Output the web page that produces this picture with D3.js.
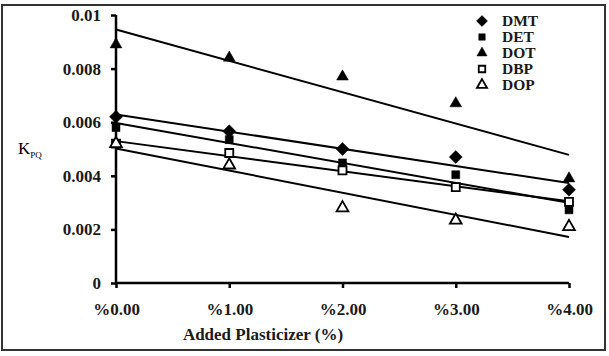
<!DOCTYPE html>
<meta charset="utf-8">
<script src="https://d3js.org/d3.v7.min.js"></script>
<style>
  body { margin: 0; background: #fff; }
  text { font-family: "Liberation Serif", "Times New Roman", serif; }
</style>
<div id="my_dataviz"></div>
<script>

// data
var xValues = [0, 1, 2, 3, 4];
var xTickLabels = ["%0.00", "%1.00", "%2.00", "%3.00", "%4.00"];
var yTicks = [0, 0.002, 0.004, 0.006, 0.008, 0.01];
var yTickLabels = ["0", "0.002", "0.004", "0.006", "0.008", "0.01"];
var seriesNames = ["DMT", "DET", "DOT", "DBP", "DOP"];
var dmt = [0.0062, 0.00566, 0.0050, 0.0047, 0.00348];
var det = [0.0058, 0.00535, 0.00448, 0.00404, 0.00273];
var dot = [0.0089, 0.0084, 0.0077, 0.0067, 0.0039];
var dbp = [0.0052, 0.00485, 0.0042, 0.00358, 0.00303];
var dop = [0.0052, 0.0044, 0.0028, 0.00234, 0.0021];

// diamond drawn as a square turned 45 degrees
var diamond = {
  draw: function(context, size) {
    var r = Math.sqrt(size / 2);
    context.moveTo(0, -r);
    context.lineTo(r, 0);
    context.lineTo(0, r);
    context.lineTo(-r, 0);
    context.closePath();
  }
};

var allSeries = [
  {name: seriesNames[0], values: dmt, shape: diamond, fill: "#000"},
  {name: seriesNames[1], values: det, shape: d3.symbolSquare, fill: "#000"},
  {name: seriesNames[2], values: dot, shape: d3.symbolTriangle, fill: "#000"},
  {name: seriesNames[3], values: dbp, shape: d3.symbolSquare, fill: "#fff"},
  {name: seriesNames[4], values: dop, shape: d3.symbolTriangle, fill: "#fff"}
];

var W = 609, H = 356;
var margin = {top: 15, left: 116},
    width = 569 - margin.left,
    height = 283 - margin.top;

var svg = d3.select("#my_dataviz")
  .append("svg")
    .attr("width", W)
    .attr("height", H);

// outer frame
svg.append("rect")
  .attr("x", 2).attr("y", 5)
  .attr("width", 603).attr("height", 345)
  .attr("fill", "none")
  .attr("stroke", "#333")
  .attr("stroke-width", 2);

var g = svg.append("g")
  .attr("transform", "translate(" + margin.left + "," + margin.top + ")");

var x = d3.scaleLinear().domain([0, 4]).range([0, width]);
var y = d3.scaleLinear().domain([0, 0.01]).range([height, 0]);

// X axis
var xAxis = g.append("g")
  .attr("transform", "translate(0," + height + ")")
  .call(d3.axisBottom(x).tickValues(xValues).tickSize(5).tickPadding(15)
    .tickFormat(function(d, i) { return xTickLabels[i]; }));
xAxis.attr("font-family", null);
xAxis.select(".domain").attr("stroke-width", 2.5).attr("d", "M0,0H" + width);
xAxis.selectAll(".tick line").attr("stroke-width", 2.5);
xAxis.selectAll("text")
  .style("font-weight", "bold")
  .style("font-size", "17px")
  .attr("fill", "#1a1a1a");

// Y axis
var yAxis = g.append("g")
  .call(d3.axisLeft(y).tickValues(yTicks).tickSize(5).tickPadding(10)
    .tickFormat(function(d, i) { return yTickLabels[i]; }));
yAxis.attr("font-family", null);
yAxis.select(".domain").attr("stroke-width", 2.5).attr("d", "M0," + height + "V0");
yAxis.selectAll(".tick line").attr("stroke-width", 2.5);
yAxis.selectAll("text")
  .style("font-weight", "bold")
  .style("font-size", "17px")
  .attr("fill", "#1a1a1a");

// axis titles
svg.append("text")
  .attr("x", 263)
  .attr("y", 340)
  .style("text-anchor", "middle")
  .style("font-weight", "bold")
  .style("font-size", "17px")
  .attr("fill", "#1a1a1a")
  .text("Added Plasticizer (%)");

var kLabel = svg.append("text")
  .attr("x", 18)
  .attr("y", 154)
  .style("font-size", "17px")
  .attr("fill", "#000");
kLabel.append("tspan").text("K");
kLabel.append("tspan").attr("dy", 4).style("font-size", "9px").text("PQ");

// linear trend lines (least squares, like the spreadsheet)
function fit(vals) {
  var mx = d3.mean(xValues), my = d3.mean(vals);
  var num = d3.sum(xValues, function(xv, i) { return (xv - mx) * (vals[i] - my); });
  var den = d3.sum(xValues, function(xv) { return (xv - mx) * (xv - mx); });
  var b = num / den;
  return {a: my - b * mx, b: b};
}

allSeries.forEach(function(s) {
  var f = fit(s.values);
  g.append("line")
    .attr("x1", x(0)).attr("y1", y(f.a))
    .attr("x2", x(4)).attr("y2", y(f.a + f.b * 4))
    .attr("stroke", "#000")
    .attr("stroke-width", 2);
});

function symSize(s, big) {
  if (s.shape === d3.symbolTriangle) return big ? 60 : 45;
  if (s.shape === diamond) return big ? 85 : 60;
  return big ? 64 : 42;
}

// points
allSeries.forEach(function(s) {
  g.selectAll(null)
    .data(s.values)
    .enter()
    .append("path")
      .attr("d", d3.symbol().type(s.shape).size(symSize(s, true)))
      .attr("transform", function(d, i) { return "translate(" + x(xValues[i]) + "," + y(d) + ")"; })
      .attr("fill", s.fill)
      .attr("stroke", "#000")
      .attr("stroke-width", s.fill === "#fff" ? 1.8 : 0.5);
});

// legend
var legend = svg.append("g");
allSeries.forEach(function(s, i) {
  var ly = 21 + i * 16;
  legend.append("path")
    .attr("d", d3.symbol().type(s.shape).size(symSize(s, false)))
    .attr("transform", "translate(482," + ly + ")")
    .attr("fill", s.fill)
    .attr("stroke", "#000")
    .attr("stroke-width", s.fill === "#fff" ? 1.8 : 0.5);
  legend.append("text")
    .attr("x", 502)
    .attr("y", ly + 5)
    .style("font-weight", "bold")
    .style("font-size", "15.5px")
    .attr("fill", "#1a1a1a")
    .text(s.name);
});

</script>
